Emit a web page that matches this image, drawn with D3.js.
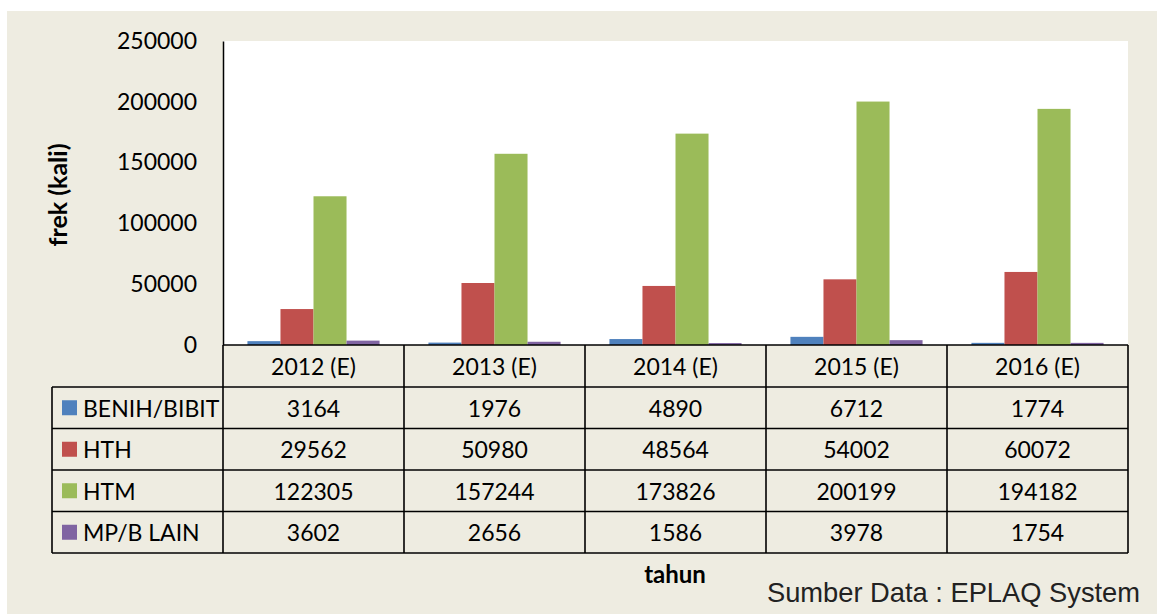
<!DOCTYPE html>
<html>
<head>
<meta charset="utf-8">
<script src="https://cdn.jsdelivr.net/npm/d3@7/dist/d3.min.js"></script>
<style>
html,body{margin:0;padding:0;background:#fff;}
svg{display:block;}
</style>
</head>
<body>
<svg id="chart" width="1157" height="614"></svg>
<script>
const categories = ["2012 (E)", "2013 (E)", "2014 (E)", "2015 (E)", "2016 (E)"];
const seriesNames = ["BENIH/BIBIT", "HTH", "HTM", "MP/B LAIN"];
const benih = [3164, 1976, 4890, 6712, 1774];
const hth = [29562, 50980, 48564, 54002, 60072];
const htm = [122305, 157244, 173826, 200199, 194182];
const mpb = [3602, 2656, 1586, 3978, 1754];
const yTicks = [0, 50000, 100000, 150000, 200000, 250000];
const colors = ["#4F81BD", "#C0504D", "#9BBB59", "#8064A2"];
const seriesValues = [benih, hth, htm, mpb];

const svg = d3.select("#chart");
const font = "Lato, 'Open Sans', sans-serif";

// background
svg.append("rect").attr("x", 7).attr("y", 11).attr("width", 1150).attr("height", 603).attr("fill", "#EEECE1");

const plotL = 223, plotR = 1128, plotT = 41, plotB = 345;
svg.append("rect").attr("x", plotL).attr("y", plotT).attr("width", plotR - plotL).attr("height", plotB - plotT).attr("fill", "#fff");

const x = d3.scaleBand().domain(categories).range([plotL, plotR]).paddingInner(0).paddingOuter(0);
const xs = d3.scaleBand().domain(seriesNames).range([0, x.bandwidth()]).paddingInner(0).paddingOuter(0.74);
const y = d3.scaleLinear().domain([0, 250000]).range([plotB, plotT]);

// bars
seriesNames.forEach((s, si) => {
  svg.append("g").selectAll("rect").data(categories).join("rect")
    .attr("x", c => x(c) + xs(s))
    .attr("y", (c, i) => y(seriesValues[si][i]))
    .attr("width", xs.bandwidth())
    .attr("height", (c, i) => y(0) - y(seriesValues[si][i]))
    .attr("fill", colors[si]);
});

// y axis
const yAxis = svg.append("g").attr("transform", `translate(${plotL},0)`)
  .call(d3.axisLeft(y).tickValues(yTicks).tickFormat(d3.format("d")).tickSize(0).tickPadding(26));
yAxis.select(".domain").attr("stroke", "#000").attr("stroke-width", 1.5);
yAxis.selectAll("text").attr("font-family", font).attr("font-size", 23).attr("fill", "#000");

// table
const rowTop = plotB, hdrBottom = 387;
const rowH = (553 - 387) / 4;
const tableL = 52;
const g = svg.append("g");
const line = (x1, y1, x2, y2) => g.append("line").attr("x1", x1).attr("y1", y1).attr("x2", x2).attr("y2", y2)
  .attr("stroke", "#000").attr("stroke-width", 1.6);

// header
g.selectAll("text.hdr").data(categories).join("text").attr("class", "hdr")
  .attr("x", c => x(c) + x.bandwidth() / 2).attr("y", (rowTop + hdrBottom) / 2)
  .attr("text-anchor", "middle").attr("dominant-baseline", "central")
  .attr("font-family", font).attr("font-size", 23).attr("fill", "#000").text(c => c);

// rows
seriesNames.forEach((s, si) => {
  const cy = hdrBottom + rowH * si + rowH / 2;
  g.append("rect").attr("x", 62).attr("y", cy - 7.5).attr("width", 15).attr("height", 15).attr("fill", colors[si]);
  g.append("text").attr("x", 83).attr("y", cy).attr("dominant-baseline", "central")
    .attr("font-family", font).attr("font-size", 23).attr("fill", "#000").text(s);
  g.selectAll(null).data(categories).join("text")
    .attr("x", c => x(c) + x.bandwidth() / 2).attr("y", cy)
    .attr("text-anchor", "middle").attr("dominant-baseline", "central")
    .attr("font-family", font).attr("font-size", 23).attr("fill", "#000")
    .text((c, i) => seriesValues[si][i]);
});

// grid lines
line(plotL, plotB, plotR, plotB);
categories.forEach(c => line(x(c), plotB, x(c), 553));
line(plotR, plotB, plotR, 553);
for (let i = 0; i <= 4; i++) line(tableL, hdrBottom + rowH * i, plotR, hdrBottom + rowH * i);
line(tableL, hdrBottom, tableL, 553);

// axis titles
svg.append("text").attr("transform", "translate(57,195) rotate(-90)")
  .attr("text-anchor", "middle").attr("dominant-baseline", "central")
  .attr("font-family", font).attr("font-size", 25).attr("font-weight", "bold").attr("fill", "#000").text("frek (kali)");
svg.append("text").attr("x", 675).attr("y", 583).attr("text-anchor", "middle")
  .attr("font-family", font).attr("font-size", 24).attr("font-weight", "bold").attr("fill", "#000").text("tahun");

svg.append("text").attr("x", 767).attr("y", 602)
  .attr("font-family", "'Liberation Sans', Arial, sans-serif").attr("font-size", 28).attr("fill", "#222")
  .attr("textLength", 373).attr("lengthAdjust", "spacingAndGlyphs")
  .text("Sumber Data : EPLAQ System");
</script>
</body>
</html>
